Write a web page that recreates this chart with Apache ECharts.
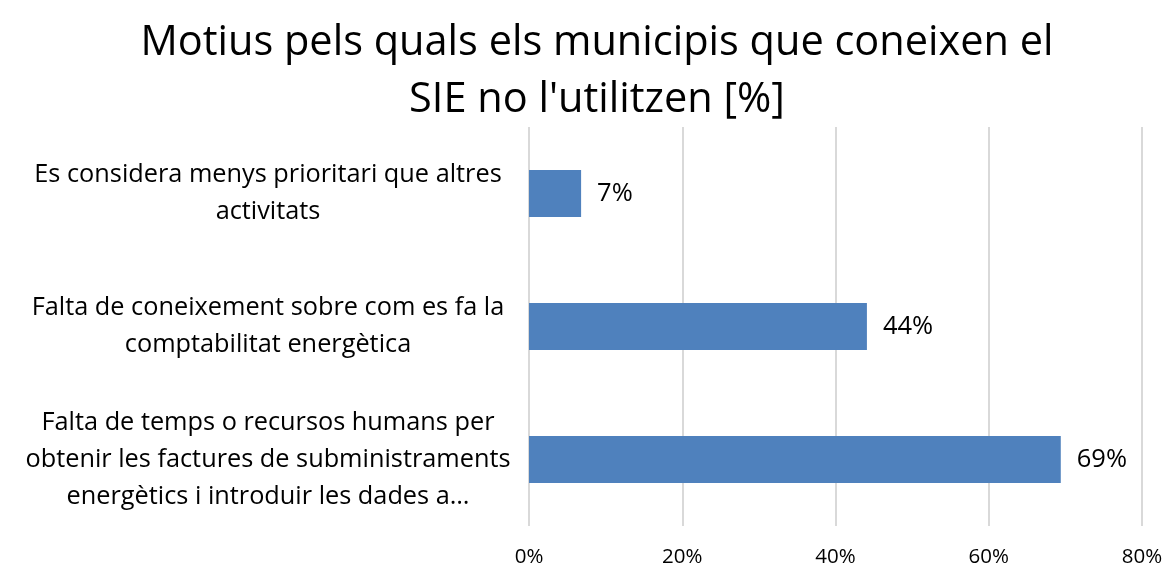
<!DOCTYPE html>
<html>
<head>
<meta charset="utf-8">
<script src="https://cdn.jsdelivr.net/npm/echarts@6/dist/echarts.min.js"></script>
<style>
  html, body { margin: 0; padding: 0; background: #fff; }
  #chart { width: 1166px; height: 565px; }
</style>
</head>
<body>
<div id="chart"></div>
<script>
// categories, top to bottom
var motius = [
  'Es considera menys prioritari que altres\nactivitats',
  'Falta de coneixement sobre com es fa la\ncomptabilitat energètica',
  'Falta de temps o recursos humans per\nobtenir les factures de subministraments\nenergètics i introduir les dades a…'
];
var percentatges = [6.8, 44.1, 69.4];
var xTicks = [0, 20, 40, 60, 80];

var font = '"Open Sans", "Liberation Sans", sans-serif';
var chart = echarts.init(document.getElementById('chart'));
chart.setOption({
  animation: false,
  title: {
    text: 'Motius pels quals els municipis que coneixen el\nSIE no l\'utilitzen [%]',
    left: 592,
    textAlign: 'center',
    top: 10,
    textStyle: { fontFamily: font, fontSize: 41.5, fontWeight: 'normal', color: '#000', lineHeight: 57 }
  },
  grid: { left: 529, right: 24, top: 127, bottom: 39, containLabel: false, outerBoundsMode: 'none' },
  xAxis: {
    type: 'value',
    min: xTicks[0],
    max: xTicks[xTicks.length - 1],
    interval: 20,
    axisLine: { show: false },
    axisTick: { show: false },
    splitLine: { lineStyle: { color: '#d9d9d9', width: 2 } },
    axisLabel: { formatter: '{value}%', margin: 21, fontFamily: font, fontSize: 20.5, color: '#000' }
  },
  yAxis: {
    type: 'category',
    inverse: true,
    data: motius,
    axisLine: { show: false },
    axisTick: { show: false },
    axisLabel: { align: 'center', margin: 261, fontFamily: font, fontSize: 25.3, lineHeight: 37, color: '#000' }
  },
  series: [{
    type: 'bar',
    data: percentatges,
    barWidth: 47,
    itemStyle: { color: '#4f81bd' },
    label: {
      show: true,
      position: 'right',
      distance: 16,
      fontFamily: font,
      fontSize: 25.5,
      color: '#000',
      formatter: function (p) { return Math.round(p.value) + '%'; }
    }
  }]
});
</script>
</body>
</html>
